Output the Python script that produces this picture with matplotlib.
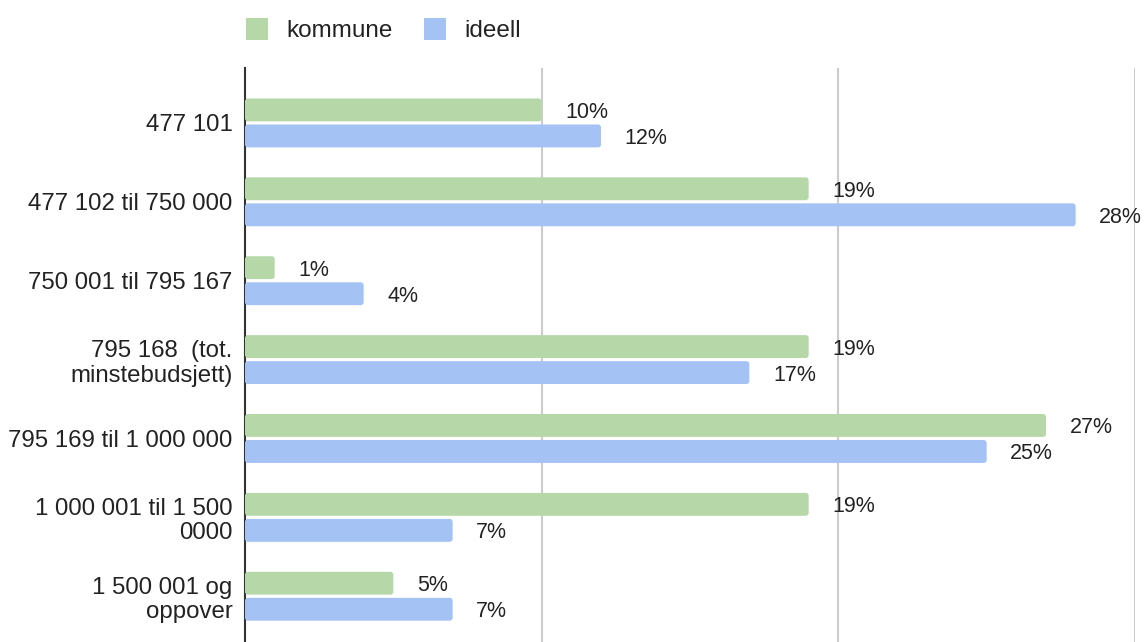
import matplotlib.pyplot as plt
from matplotlib.patches import FancyBboxPatch, Patch

plt.rcParams['font.family'] = ['Liberation Sans', 'DejaVu Sans']

categories = ['477 101', '477 102 til 750 000', '750 001 til 795 167',
              '795 168  (tot.\nminstebudsjett)', '795 169 til 1 000 000',
              '1 000 001 til 1 500\n0000', '1 500 001 og\noppover']
kommune = [10, 19, 1, 19, 27, 19, 5]
ideell = [12, 28, 4, 17, 25, 7, 7]

green = '#b6d7a8'
blue = '#a4c2f4'

W, H = 1146, 642
fig = plt.figure(figsize=(W / 100, H / 100), dpi=100)
ax = fig.add_axes([245 / W, 0, (1135 - 245) / W, 1 - 68 / H])

y = list(range(len(categories)))
h = 0.29
off = 0.165
bars_k = ax.barh([v - off for v in y], kommune, height=h, color=green)
bars_i = ax.barh([v + off for v in y], ideell, height=h, color=blue)

# swap plain rectangles for slightly rounded ones
for bars in (bars_k, bars_i):
    for r in bars.patches:
        r.set_visible(False)
        fb = FancyBboxPatch((r.get_x(), r.get_y()), r.get_width(), r.get_height(),
                            boxstyle='round,pad=0,rounding_size=0.1',
                            mutation_aspect=0.38, facecolor=r.get_facecolor(),
                            edgecolor='none', zorder=3)
        ax.add_patch(fb)

for bars, vals in ((bars_k, kommune), (bars_i, ideell)):
    for r, v in zip(bars.patches, vals):
        ax.annotate(f'{v}%', (r.get_width(), r.get_y() + r.get_height() / 2),
                    xytext=(17, 0), textcoords='offset points',
                    ha='left', va='center_baseline', fontsize=15.5, color='#222222')

ax.set_xlim(0, 30)
ax.set_ylim(6.58, -0.696)
ax.set_xticks([0, 10, 20, 30])
ax.set_xticklabels([])
ax.tick_params(axis='x', length=0)
ax.xaxis.grid(True, color='#cccccc', linewidth=1.5)
ax.set_axisbelow(True)
ax.set_yticks(y)
ax.set_yticklabels(categories, fontsize=17.3, color='#222222', linespacing=1.15)
ax.tick_params(axis='y', length=0, pad=9)
for s in ('top', 'right', 'bottom'):
    ax.spines[s].set_visible(False)
ax.spines['left'].set_color('#333333')
ax.spines['left'].set_linewidth(1.5)

handles = [Patch(facecolor=green, edgecolor='none', label='kommune'),
           Patch(facecolor=blue, edgecolor='none', label='ideell')]
fig.legend(handles=handles, loc='center left', bbox_to_anchor=(224 / W, 1 - 30 / H),
           ncol=2, frameon=False, fontsize=17.5, handlelength=0.9, handleheight=1.0,
           handletextpad=0.75, columnspacing=1.3, labelcolor='#222222')

fig.savefig('out.png', dpi=100)
